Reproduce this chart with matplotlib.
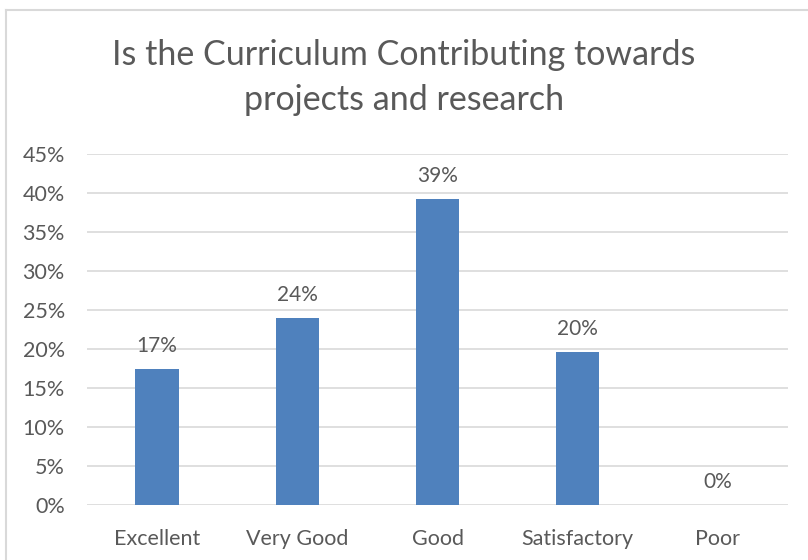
import matplotlib
matplotlib.use("Agg")
import matplotlib.pyplot as plt
from matplotlib.lines import Line2D
from matplotlib.ticker import PercentFormatter
import numpy as np

categories = ["Excellent", "Very Good", "Good", "Satisfactory", "Poor"]
values = [0.174, 0.240, 0.392, 0.196, 0.0]
labels = ["17%", "24%", "39%", "20%", "0%"]

plt.rcParams['font.family'] = ['Lato', 'DejaVu Sans']
grey = "#595959"

fig = plt.figure(figsize=(8.08, 5.6), dpi=100)
ax = fig.add_axes([87 / 808, 1 - 505 / 560, (788 - 87) / 808, (505 - 154) / 560])

x = np.arange(len(categories))
bars = ax.bar(x, values, width=0.31, color="#4F81BD", zorder=3)
for b, lab in zip(bars, labels):
    ax.text(b.get_x() + b.get_width() / 2, b.get_height() + 0.017, lab,
            ha="center", va="bottom", fontsize=15, color=grey)

ax.set_xlim(-0.5, len(categories) - 0.5)
ax.set_ylim(0, 0.45)
ax.set_yticks(np.arange(0, 0.451, 0.05))
ax.yaxis.set_major_formatter(PercentFormatter(1.0, decimals=0))
ax.set_xticks(x)
ax.set_xticklabels(categories)
ax.tick_params(axis="both", length=0, labelsize=15.5, labelcolor=grey)
ax.tick_params(axis="y", pad=16)
ax.tick_params(axis="x", pad=17)
ax.grid(axis="y", color="#D9D9D9", linewidth=1.2, zorder=0)
for s in ax.spines.values():
    s.set_visible(False)

fig.text(0.5, 1 - 55 / 560, "Is the Curriculum Contributing towards", ha="center",
         va="center", fontsize=24.5, color=grey)
fig.text(0.5, 1 - 100 / 560, "projects and research", ha="center",
         va="center", fontsize=24.5, color=grey)

# outer chart border (only left and top edges visible in the crop)
fig.add_artist(Line2D([5.5 / 808, 5.5 / 808], [0, 1 - 10 / 560], color="#D9D9D9", lw=1.5))
fig.add_artist(Line2D([5.5 / 808, 1], [1 - 10 / 560, 1 - 10 / 560], color="#D9D9D9", lw=1.5))

fig.savefig("out.png", dpi=100)
